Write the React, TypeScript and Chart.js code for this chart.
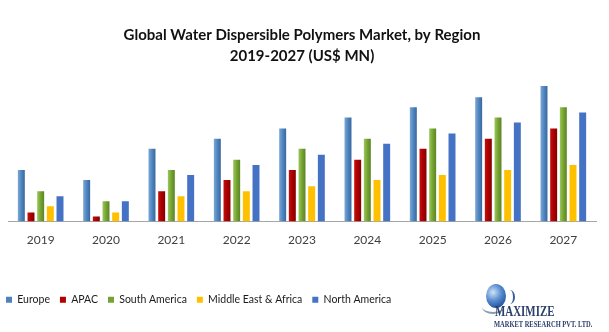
import React, { useEffect, useRef } from 'react';
import { Chart, registerables } from 'chart.js';

Chart.register(...registerables);

const years = ['2019', '2020', '2021', '2022', '2023', '2024', '2025', '2026', '2027'];
const europe = [51, 41, 72, 82, 92, 103, 113, 123, 134];
const apac = [9, 5, 30, 41, 51, 61, 72, 82, 92];
const southAmerica = [30, 20, 51, 61, 72, 82, 92, 103, 113];
const middleEastAfrica = [15, 9, 25, 30, 35, 41, 46, 51, 56];
const northAmerica = [25, 20, 46, 56, 66, 77, 87, 98, 108];
const titleLines = ['Global Water Dispersible Polymers Market, by Region', '2019-2027 (US$ MN)'];

const FONT = "Lato, 'Open Sans', sans-serif";

const barGradientPlugin = {
  id: 'barGradient',
  beforeDatasetsDraw(chart: any) {
    const ctx = chart.ctx;
    chart.data.datasets.forEach((ds: any, i: number) => {
      const stops = ds.gradientStops;
      if (!stops) return;
      const meta = chart.getDatasetMeta(i);
      meta.data.forEach((el: any) => {
        const { x, width } = el.getProps(['x', 'width'], true);
        const g = ctx.createLinearGradient(x - width / 2, 0, x + width / 2, 0);
        stops.forEach((s: [number, string]) => g.addColorStop(s[0], s[1]));
        el.options = { ...el.options, backgroundColor: g };
      });
    });
  },
};

const legendShiftPlugin = {
  id: 'legendShift',
  afterLayout(chart: any) {
    const l = chart.legend;
    if (l) {
      l.left -= 12;
      l.right -= 12;
    }
  },
};

export default function App() {
  const ref = useRef<HTMLCanvasElement | null>(null);

  useEffect(() => {
    if (!ref.current) return;
    const chart = new Chart(ref.current, {
      type: 'bar',
      data: {
        labels: years,
        datasets: [
          {
            label: 'Europe',
            data: europe,
            backgroundColor: '#4F81BD',
            gradientStops: [[0, '#7BA7D6'], [0.5, '#4F86C0'], [1, '#3A679E']],
          } as any,
          {
            label: 'APAC',
            data: apac,
            backgroundColor: '#B00000',
            gradientStops: [[0, '#C41010'], [0.5, '#AA0000'], [1, '#860000']],
          } as any,
          {
            label: 'South America',
            data: southAmerica,
            backgroundColor: '#77A336',
            gradientStops: [[0, '#9CC75A'], [0.5, '#76A332'], [1, '#5A8526']],
          } as any,
          {
            label: 'Middle East & Africa',
            data: middleEastAfrica,
            backgroundColor: '#FFC000',
          },
          {
            label: 'North America',
            data: northAmerica,
            backgroundColor: '#4472C4',
          },
        ],
      },
      options: {
        animation: false,
        responsive: false,
        maintainAspectRatio: false,
        layout: { padding: { left: 8, right: 13, top: 0, bottom: 17 } },
        datasets: {
          bar: { categoryPercentage: 0.74, barPercentage: 0.72, borderWidth: 0 },
        },
        scales: {
          x: {
            grid: { display: false, drawTicks: false },
            border: { display: true, color: '#A6A6A6', width: 1 },
            ticks: { color: '#404040', font: { family: FONT, size: 12 }, padding: 11 },
            afterFit: (s: any) => {
              s.height = 63;
            },
          },
          y: {
            display: false,
            min: 0,
            max: 144,
          },
        },
        plugins: {
          title: {
            display: true,
            text: titleLines,
            color: '#111111',
            font: { family: FONT, size: 15, weight: 'bold', lineHeight: 1.4 },
            padding: { top: 25, bottom: 9 },
          },
          legend: {
            position: 'bottom',
            align: 'start',
            labels: {
              boxWidth: 6,
              boxHeight: 6,
              padding: 10,
              color: '#1a1a1a',
              font: { family: FONT, size: 10.5 },
            },
          },
          tooltip: { enabled: false },
        },
      },
      plugins: [barGradientPlugin, legendShiftPlugin],
    } as any);
    return () => chart.destroy();
  }, []);

  return (
    <div style={{ position: 'fixed', left: 0, top: 0, width: 609, height: 332, background: '#fff', overflow: 'hidden' }}>
      <canvas ref={ref} width={609} height={332} style={{ position: 'absolute', left: 0, top: 0, width: 609, height: 332 }} />
      <div
        style={{
          position: 'absolute',
          left: 486,
          top: 284,
          width: 20,
          height: 24,
          borderRadius: '50%',
          background: 'radial-gradient(circle at 35% 35%, #cfe3f7 0%, #5b8fd0 40%, #1f4f9a 80%, #163a75 100%)',
        }}
      />
      <div
        style={{
          position: 'absolute',
          left: 505,
          top: 290,
          width: 8,
          height: 14,
          borderRight: '2px solid #3a5a9a',
          borderRadius: '0 50% 50% 0',
        }}
      />
      <div
        style={{
          position: 'absolute',
          left: 482,
          top: 300,
          width: 22,
          height: 12,
          borderBottom: '2px solid #8a9bb5',
          borderRadius: '0 0 50% 50%',
        }}
      />
      <div
        style={{
          position: 'absolute',
          left: 495,
          top: 305,
          fontFamily: "'Liberation Serif', 'DejaVu Serif', serif",
          fontWeight: 'bold',
          fontSize: 14,
          lineHeight: '14px',
          color: '#2b3f6b',
          transform: 'scaleX(0.78)',
          transformOrigin: 'left top',
          whiteSpace: 'nowrap',
        }}
      >
        MAXIMIZE
      </div>
      <div
        style={{
          position: 'absolute',
          left: 494,
          top: 320,
          fontFamily: "'Liberation Serif', 'DejaVu Serif', serif",
          fontWeight: 'bold',
          fontSize: 9,
          lineHeight: '9px',
          color: '#2b3f6b',
          transform: 'scaleX(0.72)',
          transformOrigin: 'left top',
          whiteSpace: 'nowrap',
        }}
      >
        MARKET RESEARCH PVT. LTD.
      </div>
    </div>
  );
}
